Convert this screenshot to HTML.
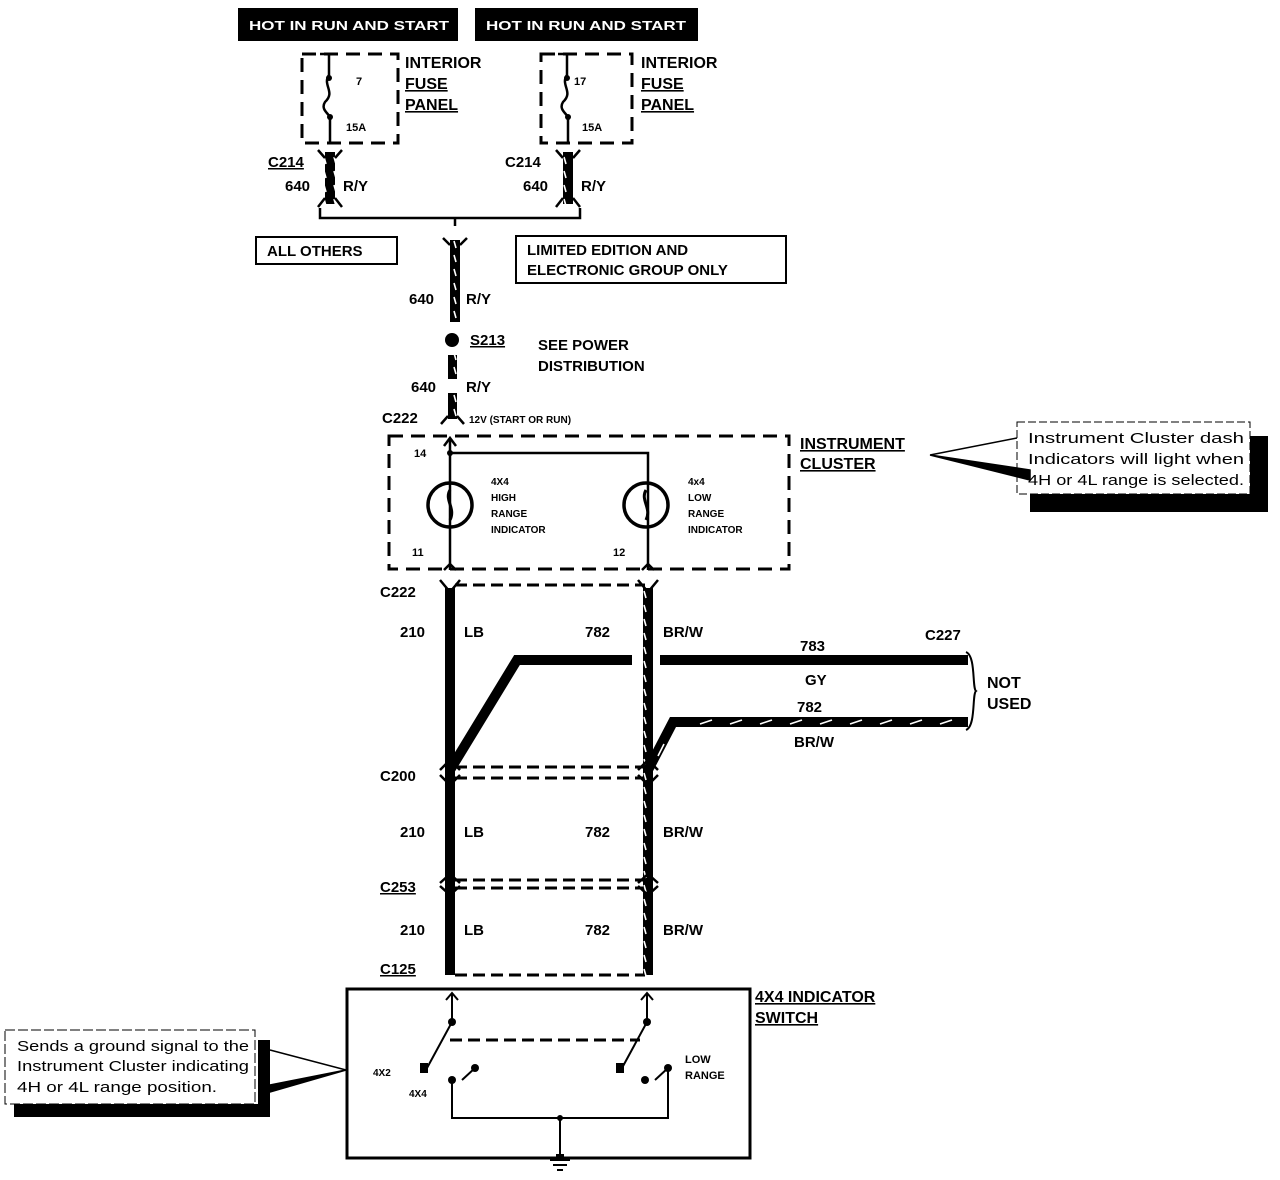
<!DOCTYPE html>
<html><head><meta charset="utf-8"><style>
html,body{margin:0;padding:0;background:#fff;}
svg{display:block;}
text{font-family:"Liberation Sans",sans-serif;font-weight:bold;fill:#000;}
</style></head><body>
<svg width="1280" height="1180" viewBox="0 0 1280 1180" xmlns="http://www.w3.org/2000/svg">
<defs>
<pattern id="hatch" width="10" height="14" patternUnits="userSpaceOnUse"><rect width="10" height="14" fill="#000"/><line x1="4" y1="3" x2="6" y2="10" stroke="#fff" stroke-width="1.6"/></pattern>
</defs>
<!-- top black labels -->
<rect x="238" y="8" width="220" height="33" fill="#000"/>
<text x="249" y="30" font-size="13" textLength="200" lengthAdjust="spacingAndGlyphs" style="fill:#fff">HOT IN  RUN AND START</text>
<rect x="475" y="8" width="223" height="33" fill="#000"/>
<text x="486" y="30" font-size="13" textLength="200" lengthAdjust="spacingAndGlyphs" style="fill:#fff">HOT IN  RUN AND START</text>
<!-- fuse boxes -->
<g fill="none" stroke="#000" stroke-width="3" stroke-dasharray="14,8">
<rect x="302" y="54" width="96" height="89"/>
<rect x="541" y="54" width="91" height="89"/>
</g>
<g fill="none" stroke="#000" stroke-width="2.5">
<path d="M320,54 H338 M329,54 V75 C322,85 336,92 325,102 C320,110 330,114 330,118 V143"/>
<path d="M558,54 H576 M567,54 V75 C560,85 574,92 563,102 C558,110 568,114 568,118 V143"/>
</g>
<circle cx="329" cy="78" r="3"/><circle cx="330" cy="117" r="3"/>
<circle cx="567" cy="78" r="3"/><circle cx="568" cy="117" r="3"/>
<text x="356" y="85" font-size="11">7</text><text x="346" y="131" font-size="11">15A</text>
<text x="574" y="85" font-size="11">17</text><text x="582" y="131" font-size="11">15A</text>
<text x="405" y="68" font-size="16">INTERIOR</text>
<text x="405" y="89" font-size="16" text-decoration="underline">FUSE</text>
<text x="405" y="110" font-size="16" text-decoration="underline">PANEL</text>
<text x="641" y="68" font-size="16">INTERIOR</text>
<text x="641" y="89" font-size="16" text-decoration="underline">FUSE</text>
<text x="641" y="110" font-size="16" text-decoration="underline">PANEL</text>
<!-- C214 wires -->
<rect x="325" y="152" width="10" height="52" fill="url(#hatch)"/>
<rect x="563" y="152" width="10" height="52" fill="url(#hatch)"/>
<g fill="none" stroke="#000" stroke-width="2.5">
<path d="M318,150 L325,158 M342,150 L335,158 M318,207 L325,198 M342,207 L335,198"/>
<path d="M556,150 L563,158 M580,150 L573,158 M556,207 L563,198 M580,207 L573,198"/>
<path d="M320,208 V218 H580 V208 M455,218 V226"/>
</g>
<text x="268" y="167" font-size="15" text-decoration="underline">C214</text>
<text x="285" y="191" font-size="15">640</text><text x="343" y="191" font-size="15">R/Y</text>
<text x="505" y="167" font-size="15">C214</text>
<text x="523" y="191" font-size="15">640</text><text x="581" y="191" font-size="15">R/Y</text>
<!-- option boxes -->
<rect x="256" y="237" width="141" height="27" fill="none" stroke="#000" stroke-width="2"/>
<text x="267" y="256" font-size="15">ALL OTHERS</text>
<rect x="516" y="236" width="270" height="47" fill="none" stroke="#000" stroke-width="2"/>
<text x="527" y="255" font-size="15">LIMITED EDITION AND</text>
<text x="527" y="275" font-size="15">ELECTRONIC GROUP ONLY</text>
<!-- main feed -->
<rect x="450" y="240" width="10" height="82" fill="url(#hatch)"/>
<path d="M443,238 L450,245 M467,238 L460,245" stroke="#000" stroke-width="2.5"/>
<text x="409" y="304" font-size="15">640</text><text x="466" y="304" font-size="15">R/Y</text>
<circle cx="452" cy="340" r="7"/>
<text x="470" y="345" font-size="15" text-decoration="underline">S213</text>
<text x="538" y="350" font-size="15">SEE POWER</text>
<text x="538" y="371" font-size="15">DISTRIBUTION</text>
<rect x="448" y="355" width="9" height="24" fill="url(#hatch)"/>
<text x="411" y="392" font-size="15">640</text><text x="466" y="392" font-size="15">R/Y</text>
<rect x="448" y="393" width="9" height="26" fill="url(#hatch)"/>
<path d="M441,424 L448,416 M464,424 L457,416" stroke="#000" stroke-width="2.5"/>
<text x="382" y="423" font-size="15">C222</text>
<text x="469" y="423" font-size="10">12V (START OR RUN)</text>
<!-- instrument cluster -->
<rect x="389" y="436" width="400" height="133" fill="none" stroke="#000" stroke-width="3" stroke-dasharray="14,8"/>
<text x="800" y="449" font-size="16" text-decoration="underline">INSTRUMENT</text>
<text x="800" y="469" font-size="16" text-decoration="underline">CLUSTER</text>
<g fill="none" stroke="#000" stroke-width="2.5">
<path d="M450,438 V570 M450,453 H648 V570"/>
<path d="M444,446 L450,438 L456,446 M444,570 L450,564 L456,570 M642,570 L648,564 L654,570"/>
<circle cx="450" cy="505" r="22" stroke-width="3.5"/>
<circle cx="646" cy="505" r="22" stroke-width="3.5"/>
<path d="M450,490 C444,500 456,508 450,520 M646,490 C640,500 652,508 646,520" stroke-width="3"/>
</g>
<circle cx="450" cy="453" r="3"/>
<text x="414" y="457" font-size="11">14</text>
<text x="412" y="556" font-size="11">11</text>
<text x="613" y="556" font-size="11">12</text>
<g font-size="10"><text x="491" y="485">4X4</text><text x="491" y="501">HIGH</text><text x="491" y="517">RANGE</text><text x="491" y="533">INDICATOR</text>
<text x="688" y="485">4x4</text><text x="688" y="501">LOW</text><text x="688" y="517">RANGE</text><text x="688" y="533">INDICATOR</text></g>
<!-- right callout -->
<rect x="1030" y="436" width="238" height="76" fill="#000"/>
<rect x="1017" y="422" width="233" height="72" fill="#fff" stroke="#000" stroke-width="1" stroke-dasharray="8,3"/>
<path d="M930,455 L1017,438 M930,455 L1030,480 L1030,470 Z" stroke="#000" stroke-width="1.5" fill="#000"/>
<text x="1028" y="443" font-size="15" textLength="216" lengthAdjust="spacingAndGlyphs" style="font-weight:normal">Instrument Cluster dash</text>
<text x="1028" y="464" font-size="15" textLength="216" lengthAdjust="spacingAndGlyphs" style="font-weight:normal">Indicators will light when</text>
<text x="1028" y="485" font-size="15" textLength="216" lengthAdjust="spacingAndGlyphs" style="font-weight:normal">4H or 4L range is selected.</text>
<!-- middle harness -->
<g fill="none" stroke="#000" stroke-width="3" stroke-dasharray="12,6">
<path d="M455,585 H645"/><path d="M455,767 H645"/><path d="M455,778 H645"/>
<path d="M455,880 H645"/><path d="M455,888 H645"/><path d="M455,975 H645"/>
</g>
<rect x="445" y="588" width="10" height="387" fill="#000"/>
<rect x="643" y="588" width="10" height="387" fill="url(#hatch)"/>
<g fill="none" stroke="#000" stroke-width="2.5">
<path d="M440,580 L450,592 L460,580 M638,580 L648,592 L658,580"/>
<path d="M440,770 L450,760 L460,770 M638,770 L648,760 L658,770 M440,775 L450,785 L460,775 M638,775 L648,785 L658,775"/>
<path d="M440,883 L450,874 L460,883 M638,883 L648,874 L658,883 M440,886 L450,895 L460,886 M638,886 L648,895 L658,886"/>
</g>
<text x="380" y="597" font-size="15">C222</text>
<text x="400" y="637" font-size="15">210</text><text x="464" y="637" font-size="15">LB</text>
<text x="585" y="637" font-size="15">782</text><text x="663" y="637" font-size="15">BR/W</text>
<path d="M450,770 L517,660 H632" fill="none" stroke="#000" stroke-width="10"/>
<path d="M660,660 H968" stroke="#000" stroke-width="10"/>
<path d="M648,770 L673,722 H968" fill="none" stroke="#000" stroke-width="10"/>
<g stroke="#fff" stroke-width="1.6"><path d="M700,724 L712,720 M730,724 L742,720 M760,724 L772,720 M790,724 L802,720 M820,724 L832,720 M850,724 L862,720 M880,724 L892,720 M910,724 L922,720 M940,724 L952,720"/><path d="M658,756 L664,744"/></g>
<path d="M966,652 C976,656 972,688 976,691 C972,694 976,726 966,730" fill="none" stroke="#000" stroke-width="2"/>
<text x="925" y="640" font-size="15">C227</text>
<text x="800" y="651" font-size="15">783</text><text x="805" y="685" font-size="15">GY</text>
<text x="797" y="712" font-size="15">782</text><text x="794" y="747" font-size="15">BR/W</text>
<text x="987" y="688" font-size="16">NOT</text><text x="987" y="709" font-size="16">USED</text>
<text x="380" y="781" font-size="15">C200</text>
<text x="400" y="837" font-size="15">210</text><text x="464" y="837" font-size="15">LB</text>
<text x="585" y="837" font-size="15">782</text><text x="663" y="837" font-size="15">BR/W</text>
<text x="380" y="892" font-size="15" text-decoration="underline">C253</text>
<text x="400" y="935" font-size="15">210</text><text x="464" y="935" font-size="15">LB</text>
<text x="585" y="935" font-size="15">782</text><text x="663" y="935" font-size="15">BR/W</text>
<text x="380" y="974" font-size="15" text-decoration="underline">C125</text>
<!-- switch -->
<rect x="347" y="989" width="403" height="169" fill="none" stroke="#000" stroke-width="3"/>
<text x="755" y="1002" font-size="16" text-decoration="underline">4X4 INDICATOR</text>
<text x="755" y="1023" font-size="16" text-decoration="underline">SWITCH</text>
<g fill="none" stroke="#000" stroke-width="2">
<path d="M446,1000 L452,993 L458,1000 M641,1000 L647,993 L653,1000"/>
<path d="M452,993 V1022 L427,1068 M647,993 V1022 L622,1068"/>
<path d="M450,1040 H640" stroke-width="3" stroke-dasharray="12,6"/>
<path d="M452,1080 V1118 H668 V1068 M560,1118 V1158 M475,1068 L462,1080 M668,1068 L655,1080"/>
</g>
<circle cx="452" cy="1022" r="4"/><circle cx="647" cy="1022" r="4"/>
<rect x="420" y="1063" width="8" height="10"/><rect x="616" y="1063" width="8" height="10"/>
<circle cx="452" cy="1080" r="4"/><circle cx="475" cy="1068" r="4"/>
<circle cx="645" cy="1080" r="4"/><circle cx="668" cy="1068" r="4"/>
<circle cx="560" cy="1118" r="3"/>
<path d="M550,1160 H570 M553,1165 H567 M557,1170 H563" stroke="#000" stroke-width="2"/>
<rect x="556" y="1154" width="8" height="6"/>
<text x="373" y="1076" font-size="10">4X2</text>
<text x="409" y="1097" font-size="10">4X4</text>
<text x="685" y="1063" font-size="11">LOW</text>
<text x="685" y="1079" font-size="11">RANGE</text>
<!-- left callout -->
<rect x="14" y="1104" width="256" height="13" fill="#000"/>
<rect x="258" y="1040" width="12" height="77" fill="#000"/>
<rect x="5" y="1030" width="250" height="74" fill="#fff" stroke="#000" stroke-width="1" stroke-dasharray="10,3"/>
<path d="M270,1050 L346,1070 M270,1085 L346,1070 L270,1092 Z" stroke="#000" stroke-width="1.5" fill="#000"/>
<text x="17" y="1051" font-size="15" textLength="232" lengthAdjust="spacingAndGlyphs" style="font-weight:normal">Sends a ground signal to the</text>
<text x="17" y="1071" font-size="15" textLength="232" lengthAdjust="spacingAndGlyphs" style="font-weight:normal">Instrument Cluster indicating</text>
<text x="17" y="1092" font-size="15" textLength="200" lengthAdjust="spacingAndGlyphs" style="font-weight:normal">4H or 4L range position.</text>
</svg>
</body></html>
